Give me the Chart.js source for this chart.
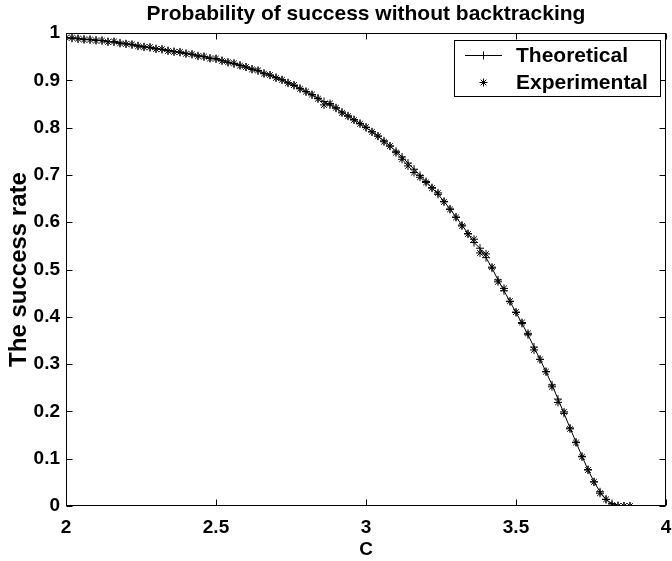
<!DOCTYPE html>
<html>
<head>
<meta charset="utf-8">
<script src="https://cdn.jsdelivr.net/npm/chart.js@4/dist/chart.umd.min.js"></script>
<style>
html,body{margin:0;padding:0;background:#fff;}
#wrap{width:672px;height:561px;}
</style>
</head>
<body>
<div id="wrap"><canvas id="c" width="672" height="561"></canvas></div>
<script>
const titleText = "Probability of success without backtracking";
const xTitle = "C";
const yTitle = "The success rate";
const seriesNames = ["Theoretical", "Experimental"];
const xTickValues = [2, 2.5, 3, 3.5, 4];
const yTickValues = [0, 0.1, 0.2, 0.3, 0.4, 0.5, 0.6, 0.7, 0.8, 0.9, 1];

const cValues = [
2.00,2.02,2.04,2.06,2.08,2.10,2.12,2.14,2.16,2.18,
2.20,2.22,2.24,2.26,2.28,2.30,2.32,2.34,2.36,2.38,
2.40,2.42,2.44,2.46,2.48,2.50,2.52,2.54,2.56,2.58,
2.60,2.62,2.64,2.66,2.68,2.70,2.72,2.74,2.76,2.78,
2.80,2.82,2.84,2.86,2.88,2.90,2.92,2.94,2.96,2.98,
3.00,3.02,3.04,3.06,3.08,3.10,3.12,3.14,3.16,3.18,
3.20,3.22,3.24,3.26,3.28,3.30,3.32,3.34,3.36,3.38,
3.40,3.42,3.44,3.46,3.48,3.50,3.52,3.54,3.56,3.58,
3.60,3.62,3.64,3.66,3.68,3.70,3.72,3.74,3.76,3.78,
3.80,3.82,3.84,3.86,3.88];

const theoretical = [
0.990,0.989,0.988,0.987,0.986,0.985,0.984,0.982,0.981,0.979,
0.977,0.975,0.973,0.971,0.969,0.967,0.965,0.963,0.961,0.959,
0.957,0.955,0.952,0.950,0.947,0.945,0.942,0.938,0.935,0.932,
0.928,0.924,0.920,0.915,0.911,0.906,0.901,0.895,0.889,0.883,
0.876,0.869,0.862,0.855,0.848,0.841,0.833,0.825,0.817,0.809,
0.800,0.791,0.782,0.772,0.761,0.750,0.738,0.725,0.712,0.699,
0.686,0.673,0.659,0.644,0.628,0.611,0.594,0.576,0.557,0.545,
0.525,0.503,0.478,0.455,0.432,0.409,0.386,0.362,0.336,0.310,
0.284,0.256,0.226,0.196,0.165,0.135,0.105,0.077,0.051,0.030,
0.014,0.005,0.001,0.000,0.000];

const experimental = [
0.990,0.990,0.988,0.986,0.986,0.984,0.984,0.981,0.982,0.978,
0.977,0.976,0.972,0.970,0.970,0.966,0.966,0.962,0.960,0.960,
0.956,0.955,0.951,0.950,0.946,0.946,0.941,0.938,0.936,0.931,
0.928,0.923,0.921,0.914,0.911,0.905,0.901,0.894,0.890,0.882,
0.876,0.870,0.861,0.848,0.851,0.842,0.831,0.824,0.816,0.808,
0.801,0.791,0.782,0.770,0.761,0.747,0.733,0.719,0.705,0.695,
0.684,0.672,0.662,0.643,0.627,0.610,0.592,0.575,0.564,0.535,
0.533,0.505,0.474,0.460,0.433,0.410,0.388,0.365,0.330,0.310,
0.284,0.252,0.219,0.199,0.163,0.134,0.104,0.076,0.051,0.027,
0.014,0.002,0.000,0.000,0.000];

const FONT = "'Liberation Sans', Arial, Helvetica, sans-serif";

const frame = {
  id: 'frame',
  afterDraw(chart) {
    const ctx = chart.ctx, a = chart.chartArea;
    const xs = chart.scales.x, ys = chart.scales.y;
    ctx.save();
    ctx.strokeStyle = '#000';
    ctx.lineWidth = 1;
    const L = Math.round(a.left) + 0.5, R = Math.round(a.right) - 0.5;
    const T = Math.round(a.top) + 0.5, B = Math.round(a.bottom) - 0.5;
    ctx.strokeRect(L, T, R - L, B - T);
    const tl = 6;
    ctx.beginPath();
    xTickValues.forEach(v => {
      const px = Math.round(xs.getPixelForValue(v)) + 0.5;
      ctx.moveTo(px, B); ctx.lineTo(px, B - tl);
      ctx.moveTo(px, T); ctx.lineTo(px, T + tl);
    });
    yTickValues.forEach(v => {
      const py = Math.round(ys.getPixelForValue(v)) + 0.5;
      ctx.moveTo(L, py); ctx.lineTo(L + tl, py);
      ctx.moveTo(R, py); ctx.lineTo(R - tl, py);
    });
    ctx.stroke();

    // title
    ctx.fillStyle = '#000';
    ctx.font = "bold 21px " + FONT;
    ctx.textAlign = 'center';
    ctx.textBaseline = 'middle';
    ctx.fillText(titleText, (a.left + a.right) / 2, 14);

    // legend
    const bx = 454.5, by = 40.5, bw = 206, bh = 56;
    ctx.fillStyle = '#fff';
    ctx.fillRect(bx, by, bw, bh);
    ctx.strokeRect(bx, by, bw, bh);
    const ds = chart.data.datasets;
    const rows = [55, 82];
    ctx.font = "bold 21px " + FONT;
    ctx.textAlign = 'left';
    ds.forEach((d, i) => {
      const y = rows[i];
      if (d.showLine !== false) {
        ctx.beginPath();
        ctx.moveTo(465, y + 0.5); ctx.lineTo(502, y + 0.5);
        ctx.strokeStyle = '#000';
        ctx.stroke();
      }
      Chart.helpers.drawPoint(ctx, {pointStyle: d.pointStyle, radius: d.pointRadius, borderWidth: 1, rotation: 0}, 483.5, y + 0.5);
      ctx.fillStyle = '#000';
      ctx.fillText(d.label, 516, y + 1);
    });
    ctx.restore();
  }
};

const ctx = document.getElementById('c').getContext('2d');
new Chart(ctx, {
  type: 'scatter',
  data: {
    datasets: [
      {
        label: seriesNames[0],
        data: cValues.map((c, i) => ({x: c, y: theoretical[i]})),
        showLine: true,
        borderColor: '#000',
        backgroundColor: '#000',
        borderWidth: 1,
        pointStyle: 'cross',
        pointRadius: 4,
        pointBorderWidth: 1,
        pointBorderColor: '#000',
        tension: 0
      },
      {
        label: seriesNames[1],
        data: cValues.map((c, i) => ({x: c, y: experimental[i]})),
        showLine: false,
        borderColor: '#000',
        backgroundColor: '#000',
        pointStyle: 'star',
        pointRadius: 4,
        pointBorderWidth: 1,
        pointBorderColor: '#000'
      }
    ]
  },
  options: {
    responsive: false,
    animation: false,
    events: [],
    layout: {padding: {top: 33, right: 6, left: 0, bottom: 0}},
    plugins: {
      legend: {display: false},
      title: {display: false},
      tooltip: {enabled: false}
    },
    scales: {
      x: {
        type: 'linear',
        min: 2, max: 4,
        afterBuildTicks: s => { s.ticks = xTickValues.map(v => ({value: v})); },
        afterFit: s => { s.height = 55; s.paddingLeft = 0; s.paddingRight = 0; },
        grid: {display: false, drawTicks: false},
        border: {display: false},
        ticks: {
          color: '#000', padding: 10,
          font: {family: FONT, size: 19, weight: 'bold'},
          callback: v => String(v)
        },
        title: {display: true, text: xTitle, color: '#000', padding: {top: 0, bottom: 0},
          font: {family: FONT, size: 19, weight: 'bold'}}
      },
      y: {
        type: 'linear',
        min: 0, max: 1,
        afterBuildTicks: s => { s.ticks = yTickValues.map(v => ({value: v})); },
        afterFit: s => { s.width = 66; s.paddingTop = 0; s.paddingBottom = 0; },
        grid: {display: false, drawTicks: false},
        border: {display: false},
        ticks: {
          color: '#000', padding: 6,
          font: {family: FONT, size: 19, weight: 'bold'},
          callback: v => String(Math.round(v * 10) / 10)
        },
        title: {display: true, text: yTitle, color: '#000', padding: {top: 5, bottom: 0},
          font: {family: FONT, size: 24, weight: 'bold'}}
      }
    }
  },
  plugins: [frame]
});
</script>
</body>
</html>
